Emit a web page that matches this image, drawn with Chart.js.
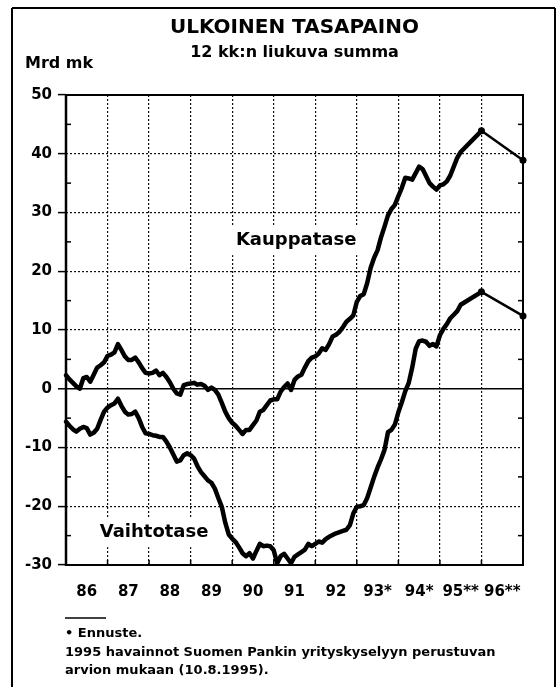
<!DOCTYPE html>
<html lang="fi">
<head>
<meta charset="utf-8">
<title>Ulkoinen tasapaino</title>
<script src="https://cdn.jsdelivr.net/npm/chart.js@4.4.1/dist/chart.umd.min.js"></script>
<style>
  html, body { margin: 0; padding: 0; background: #fff; }
  #wrap { width: 560px; height: 687px; }
</style>
</head>
<body>
<div id="wrap"><canvas id="kuvio" width="560" height="687"></canvas></div>
<script>
// 12 kk:n liukuva summa, mrd mk, kuukausittain alkaen 1/1986
var alkuvuosi = 1986;
var kauppatase = [
  2.3, 1.6, 1.0, 0.4, 0.0, 1.8, 2.0, 1.2, 2.4, 3.6,
  4.0, 4.5, 5.6, 5.8, 6.2, 7.6, 6.6, 5.5, 4.9, 4.9,
  5.3, 4.5, 3.5, 2.7, 2.6, 2.7, 3.1, 2.3, 2.7, 2.0,
  1.1, 0.0, -0.8, -1.0, 0.6, 0.8, 0.9, 1.0, 0.7, 0.8,
  0.5, -0.2, 0.2, -0.2, -1.0, -2.4, -3.9, -5.0, -5.8, -6.3,
  -7.0, -7.7, -7.0, -7.0, -6.2, -5.4, -3.9, -3.6, -2.8, -2.0,
  -1.8, -1.8, -0.5, 0.3, 0.9, -0.2, 1.5, 2.1, 2.4, 3.6,
  4.7, 5.3, 5.5, 6.0, 6.9, 6.6, 7.6, 8.9, 9.2, 9.7,
  10.5, 11.4, 11.9, 12.5, 14.8, 15.8, 16.1, 18.0, 20.6, 22.3,
  23.6, 25.8, 27.6, 29.5, 30.6, 31.3, 32.8, 34.2, 35.9, 35.8,
  35.6, 36.7, 37.8, 37.4, 36.2, 35.0, 34.4, 33.9, 34.6, 34.8,
  35.3, 36.3, 37.8, 39.3, 40.3
];
var vaihtotase = [
  -5.6, -6.3, -6.9, -7.3, -6.8, -6.5, -6.7, -7.8, -7.5, -6.8,
  -5.3, -3.9, -3.2, -2.8, -2.5, -1.7, -2.9, -3.9, -4.4, -4.3,
  -3.9, -5.0, -6.5, -7.6, -7.7, -7.9, -8.0, -8.2, -8.2, -9.0,
  -10.0, -11.2, -12.4, -12.2, -11.3, -11.0, -11.3, -11.9, -13.2, -14.2,
  -14.9, -15.6, -16.0, -17.0, -18.6, -20.1, -22.8, -24.8, -25.5, -26.1,
  -27.0, -28.0, -28.5, -28.0, -28.9, -27.6, -26.4, -26.8, -26.7, -26.8,
  -27.5, -29.7, -28.5, -28.1, -28.9, -29.7, -28.6, -28.2, -27.8, -27.4,
  -26.4, -26.8, -26.4, -26.0, -26.2, -25.6, -25.2, -24.9, -24.6, -24.4,
  -24.2, -24.0, -23.2, -21.2, -20.1, -20.0, -19.8, -18.6, -16.8, -15.0,
  -13.4, -12.0, -10.4, -7.4, -7.0, -6.1, -4.0, -2.3, -0.4, 1.0,
  3.6, 6.8, 8.1, 8.2, 8.0, 7.3, 7.6, 7.2, 9.1, 10.2,
  11.0, 12.0, 12.6, 13.2, 14.3
];

// ennusteet (vuoden lopun arvo)
var ennusteVuodet = [1995, 1996];
var ennusteKauppatase = [43.9, 38.9];
var ennusteVaihtotase = [16.5, 12.4];

var vuodet = ["86", "87", "88", "89", "90", "91", "92", "93*", "94*", "95**", "96**"];
var yTicks = { min: -30, max: 50, step: 10 };

var FONT = "'DejaVu Sans', sans-serif";

// sarjojen nimet kuvion sisällä (arvoakselien koordinaateissa)
var sarjaNimet = [
  { teksti: "Kauppatase", x: 1991.54, y: 25.3 },
  { teksti: "Vaihtotase", x: 1988.12, y: -24.4 }
];

function kuukausipisteet(arvot) {
  return arvot.map(function(v, i) { return { x: alkuvuosi + i / 12, y: v }; });
}
function ennustepisteet(arvot) {
  return arvot.map(function(v, i) { return { x: ennusteVuodet[i] + 1, y: v }; });
}

function viiva(ctx, x1, y1, x2, y2) {
  ctx.beginPath();
  ctx.moveTo(x1, y1);
  ctx.lineTo(x2, y2);
  ctx.stroke();
}

var kehys = {
  id: "kehys",
  beforeDraw: function(chart) {
    var ctx = chart.ctx;
    ctx.save();
    ctx.fillStyle = "#fff";
    ctx.fillRect(0, 0, chart.width, chart.height);
    ctx.restore();
  },
  beforeDatasetsDraw: function(chart) {
    var ctx = chart.ctx, sx = chart.scales.x, sy = chart.scales.y;
    ctx.save();
    ctx.font = "bold 18px " + FONT;
    ctx.textAlign = "center";
    ctx.textBaseline = "middle";
    sarjaNimet.forEach(function(n) {
      var px = sx.getPixelForValue(n.x), py = sy.getPixelForValue(n.y);
      var w = ctx.measureText(n.teksti).width;
      ctx.fillStyle = "#fff";
      ctx.fillRect(px - w / 2 - 6, py - 15, w + 12, 30);
      ctx.fillStyle = "#000";
      ctx.fillText(n.teksti, px, py);
    });
    ctx.restore();
  },
  afterDraw: function(chart) {
    var ctx = chart.ctx, a = chart.chartArea;
    var sx = chart.scales.x, sy = chart.scales.y;
    var cx = (a.left + a.right) / 2;
    ctx.save();
    ctx.strokeStyle = "#000";
    ctx.fillStyle = "#000";

    // kuvioalueen reunat
    ctx.lineWidth = 2;
    ctx.strokeRect(a.left, a.top, a.right - a.left, a.bottom - a.top);
    ctx.lineWidth = 2.5;
    viiva(ctx, a.left, a.top - 1, a.left, a.bottom + 1);

    // väliviivat 5:n välein
    ctx.lineWidth = 1.5;
    for (var v = sy.min + 5; v < sy.max; v += 10) {
      var py = sy.getPixelForValue(v);
      viiva(ctx, a.left, py, a.left + 5, py);
      viiva(ctx, a.right - 5, py, a.right, py);
    }
    for (var t = sx.min + 1; t < sx.max; t++) {
      var px = sx.getPixelForValue(t);
      viiva(ctx, px, a.bottom, px, a.bottom - 5);
    }

    // ulkokehys
    ctx.lineWidth = 2;
    viiva(ctx, 12, 8, 555, 8);
    viiva(ctx, 12, 8, 12, chart.height);
    viiva(ctx, 555, 8, 555, chart.height);

    // otsikot
    ctx.textBaseline = "alphabetic";
    ctx.textAlign = "center";
    ctx.font = "bold 20px " + FONT;
    ctx.fillText("ULKOINEN TASAPAINO", cx, 33);
    ctx.font = "bold 16px " + FONT;
    ctx.fillText("12 kk:n liukuva summa", cx, 57);
    ctx.textAlign = "left";
    ctx.fillText("Mrd mk", 25, 68);

    // alaviitteet
    ctx.lineWidth = 1.5;
    viiva(ctx, 65, 618, 106, 618);
    ctx.font = "bold 13px " + FONT;
    ctx.fillText("\u2022 Ennuste.", 65, 637);
    ctx.fillText("1995 havainnot Suomen Pankin yrityskyselyyn perustuvan", 65, 656);
    ctx.fillText("arvion mukaan (10.8.1995).", 65, 674);
    ctx.restore();
  }
};

function renderChart() {
  var ctx = document.getElementById("kuvio").getContext("2d");
  var tickFont = { family: FONT, size: 15, weight: "bold" };
  new Chart(ctx, {
    type: "line",
    data: {
      datasets: [
        {
          label: "Kauppatase",
          data: kuukausipisteet(kauppatase).concat(ennustepisteet(ennusteKauppatase).slice(0, 1)),
          borderColor: "#000",
          borderWidth: 4.5,
          pointRadius: 0,
          borderJoinStyle: "round",
          borderCapStyle: "round",
          clip: 8,
        },
        {
          label: "Vaihtotase",
          data: kuukausipisteet(vaihtotase).concat(ennustepisteet(ennusteVaihtotase).slice(0, 1)),
          borderColor: "#000",
          borderWidth: 4.5,
          pointRadius: 0,
          borderJoinStyle: "round",
          borderCapStyle: "round",
          clip: 8,
        },
        {
          label: "Kauppatase, ennuste",
          data: ennustepisteet(ennusteKauppatase),
          borderColor: "#000",
          borderWidth: 2.5,
          pointRadius: 3.5,
          pointBackgroundColor: "#000",
          pointBorderWidth: 0,
          clip: 8,
        },
        {
          label: "Vaihtotase, ennuste",
          data: ennustepisteet(ennusteVaihtotase),
          borderColor: "#000",
          borderWidth: 2.5,
          pointRadius: 3.5,
          pointBackgroundColor: "#000",
          pointBorderWidth: 0,
          clip: 8,
        }
      ]
    },
    options: {
      responsive: false,
      devicePixelRatio: 1,
      animation: false,
      layout: { padding: { top: 95, right: 37, bottom: 82, left: 0 } },
      plugins: {
        legend: { display: false },
        tooltip: { enabled: false },
      },
      scales: {
        x: {
          type: "linear",
          min: 1986,
          max: 1997,
          position: "bottom",
          weight: 0,
          afterFit: function(s) { s.height = 0; },
          ticks: { display: false, stepSize: 1 },
          grid: { color: "#111", lineWidth: 1.2, drawTicks: false },
          border: { display: false, dash: [2, 2] },
        },
        x2: {
          type: "category",
          labels: vuodet,
          offset: true,
          position: "bottom",
          weight: 1,
          afterFit: function(s) { s.height = 40; },
          grid: { display: false, drawTicks: false },
          border: { display: false },
          ticks: { padding: 18, color: "#000", font: tickFont, maxRotation: 0, autoSkip: false },
        },
        y: {
          min: yTicks.min,
          max: yTicks.max,
          afterFit: function(s) { s.width = 66; },
          ticks: { stepSize: yTicks.step, padding: 6, color: "#000", font: tickFont },
          grid: {
            color: function(c) { return c.tick && c.tick.value === 0 ? "#000" : "#111"; },
            lineWidth: function(c) { return c.tick && c.tick.value === 0 ? 1.6 : 1.2; },
            tickLength: 8,
            tickColor: "#000",
            tickWidth: 1.5,
            tickBorderDash: [],
          },
          border: {
            display: false,
            dash: function(c) { return c.tick && c.tick.value === 0 ? [] : [2, 2]; },
          },
        }
      }
    },
    plugins: [kehys]
  });
}

document.addEventListener("DOMContentLoaded", renderChart);
</script>
</body>
</html>
